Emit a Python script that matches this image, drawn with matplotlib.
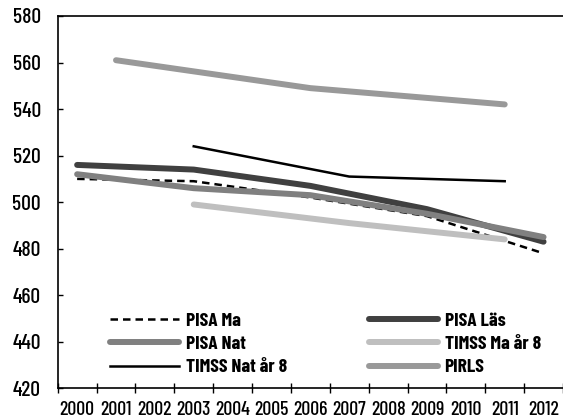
import matplotlib
matplotlib.use("Agg")
import matplotlib.pyplot as plt
from matplotlib import font_manager

years = list(range(2000, 2013))

pisa_ma_years = [2000, 2003, 2006, 2009, 2012]
pisa_ma = [510, 509, 502, 494, 478]
pisa_las_years = [2000, 2003, 2006, 2009, 2012]
pisa_las = [516, 514, 507, 497, 483]
pisa_nat_years = [2000, 2003, 2006, 2009, 2012]
pisa_nat = [512, 506, 503, 495, 485]
timss_ma_years = [2003, 2007, 2011]
timss_ma = [499, 491, 484]
timss_nat_years = [2003, 2007, 2011]
timss_nat = [524, 511, 509]
pirls_years = [2001, 2006, 2011]
pirls = [561, 549, 542]

names = set(f.name for f in font_manager.fontManager.ttflist)
fams = [f for f in ['Barlow Condensed', 'Roboto Condensed', 'Archivo Narrow'] if f in names]
plt.rcParams['font.family'] = fams[:1] + ['DejaVu Sans']

fig = plt.figure(figsize=(5.63, 4.20), dpi=100)
ax = fig.add_axes([57.7 / 563, 31.7 / 420, 1 - 57.7 / 563, (388.3 - 16) / 420])

def xpos(ys):
    # category centres: year index + 0.5
    return [y - 2000 + 0.5 for y in ys]

thick = 4.3
ax.plot(xpos(pisa_ma_years), pisa_ma, color='black', lw=1.8, ls=(0, (3, 2)), label='PISA Ma')
ax.plot(xpos(pisa_nat_years), pisa_nat, color='#808080', lw=thick, solid_capstyle='round', label='PISA Nat')
ax.plot(xpos(timss_nat_years), timss_nat, color='black', lw=1.8, label='TIMSS Nat år 8')
ax.plot(xpos(pisa_las_years), pisa_las, color='#404040', lw=thick, solid_capstyle='round', label='PISA Läs', zorder=1.9)
ax.plot(xpos(timss_ma_years), timss_ma, color='#bfbfbf', lw=thick, solid_capstyle='round', label='TIMSS Ma år 8')
ax.plot(xpos(pirls_years), pirls, color='#999999', lw=thick, solid_capstyle='round', label='PIRLS')

ax.set_xlim(0, len(years))
ax.set_ylim(420, 580)
ax.set_yticks(range(420, 581, 20))
ax.set_xticks([i + 0.5 for i in range(len(years))])
ax.set_xticklabels([str(y) for y in years])
ax.set_xticks(range(0, len(years) + 1), minor=True)
ax.tick_params(axis='x', which='major', length=0, pad=9, labelsize=14.3)
ax.tick_params(axis='x', which='minor', direction='inout', length=7.2, width=1)
ax.tick_params(axis='y', direction='in', length=3.5, width=1, pad=12, labelsize=15.5)
for lab in ax.get_xticklabels() + ax.get_yticklabels():
    lab.set_fontweight(500)
ax.spines['right'].set_visible(False)
for s in ['top', 'left', 'bottom']:
    ax.spines[s].set_linewidth(1.2)

leg = ax.legend(ncol=2, frameon=False, loc='upper left', bbox_to_anchor=(0.1035, 0.205),
                borderpad=0, borderaxespad=0,
                handlelength=3.55, handletextpad=0.36, columnspacing=4.18,
                labelspacing=0.3, prop={'weight': 'bold', 'size': 14})

fig.savefig('out.png', dpi=100)
